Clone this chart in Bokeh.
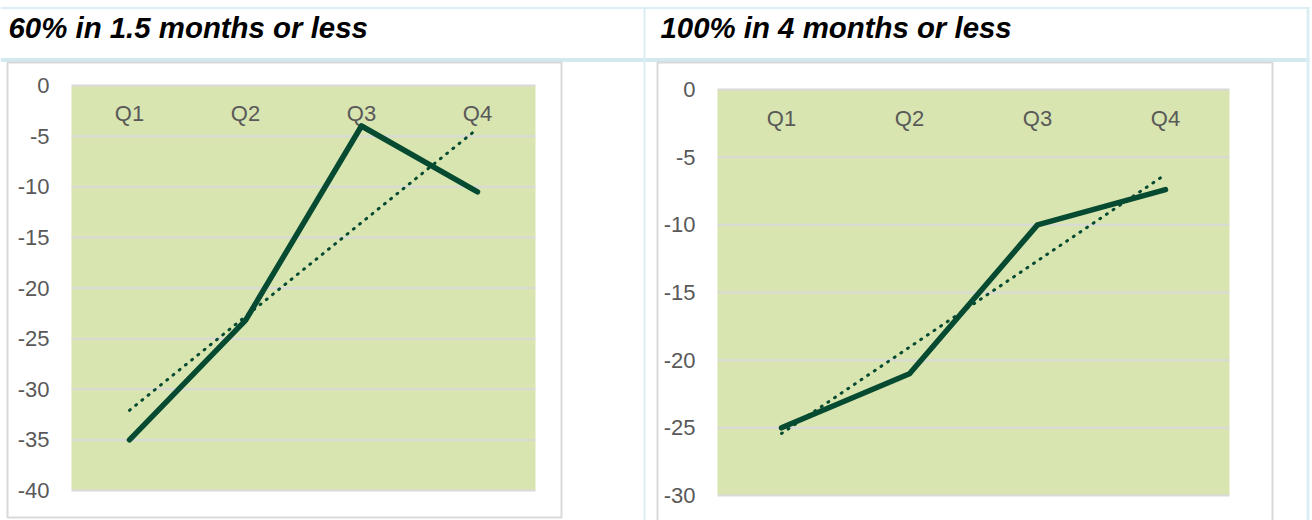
import numpy as np
from bokeh.plotting import figure
from bokeh.models import Range1d
from bokeh.embed import file_html
from bokeh.resources import INLINE
from bokeh.core.properties import value

# ---------------- data ----------------
quarters = ["Q1", "Q2", "Q3", "Q4"]

left_title = "60% in 1.5 months or less"
left_values = [-35.0, -23.2, -4.0, -10.5]
left_ticks = [0, -5, -10, -15, -20, -25, -30, -35, -40]
left_tick_labels = ["0", "-5", "-10", "-15", "-20", "-25", "-30", "-35", "-40"]

right_title = "100% in 4 months or less"
right_values = [-25.0, -21.0, -10.0, -7.4]
right_ticks = [0, -5, -10, -15, -20, -25, -30]
right_tick_labels = ["0", "-5", "-10", "-15", "-20", "-25", "-30"]

# ---------------- styles / layout ----------------
W, H = 1312, 520
GREEN_BG = "#d8e5b0"
LINE_COL = "#064a32"
GRID_COL = "#d9d9d9"
TEXT_GRAY = "#595959"
CYAN = "#dbeef3"
CYAN_DARK = "#d2e9ef"
FONT = "Liberation Sans"

p = figure(width=W, height=H, x_range=Range1d(0, W), y_range=Range1d(H, 0),
           min_border=0, x_axis_location=None, y_axis_location=None,
           output_backend="svg", toolbar_location=None,
           background_fill_color="white", border_fill_color="white",
           outline_line_color=None)
p.grid.visible = False

# ---- table-like decorations (pixel space) ----
p.quad(left=[0], right=[1309], top=[6.5], bottom=[8.5], fill_color=CYAN, line_color=None)
p.quad(left=[0], right=[1309], top=[57.5], bottom=[61.5], fill_color=CYAN_DARK, line_color=None)
p.quad(left=[643, 1306], right=[645, 1309], top=[7, 7], bottom=[H, H],
       fill_color=CYAN, line_color=None)
# chart frames
p.quad(left=[7, 657], right=[561, 1272], top=[62, 62], bottom=[517, 540],
       fill_color=None, line_color=GRID_COL, line_width=2)
# titles
p.text(x=[8, 660], y=[27, 27], text=[left_title, right_title],
       text_font=value(FONT), text_font_style="bold italic", text_font_size="29.4px",
       text_color="black", text_baseline="middle", text_align="left")


def chart(name, values, ticks, tick_labels, box, label_offset):
    """box = (px_left, px_right, px_top, px_bottom) of the plot area;
    y range of the chart is [min(ticks), max(ticks)], x range is [0, n]."""
    n = len(quarters)
    ymax, ymin = max(ticks), min(ticks)
    pl, pr, pt, pb = box
    sx = (pr - pl) / n
    sy = (pb - pt) / (ymax - ymin)
    p.extra_x_ranges[name] = Range1d(-pl / sx, (W - pl) / sx)
    p.extra_y_ranges[name] = Range1d(ymax - (H - pt) / sy, ymax + pt / sy)
    kw = dict(x_range_name=name, y_range_name=name)

    xc = [i + 0.5 for i in range(n)]
    # plot area background
    p.quad(left=[0], right=[n], bottom=[ymin], top=[ymax], fill_color=GREEN_BG,
           line_color=None, **kw)
    # horizontal gridlines
    p.segment(x0=[0] * len(ticks), x1=[n] * len(ticks), y0=ticks, y1=ticks,
              line_color=GRID_COL, line_width=2, **kw)
    # y tick labels
    p.text(x=[0] * len(ticks), y=ticks, text=tick_labels, x_offset=-22,
           text_align="right", text_baseline="middle", text_color=TEXT_GRAY,
           text_font=value(FONT), text_font_size="22px", **kw)
    # category labels at the top of the plot area
    p.text(x=xc, y=[ymax] * n, text=quarters, y_offset=label_offset,
           text_align="center", text_baseline="middle", text_color=TEXT_GRAY,
           text_font=value(FONT), text_font_size="22px", **kw)
    # linear trendline (regression over the series, as Excel draws it)
    xs = np.arange(1, n + 1)
    coef = np.polyfit(xs, values, 1)
    trend = list(np.polyval(coef, xs))
    p.line(xc, trend, line_color=LINE_COL, line_width=3, line_dash="1 7",
           line_cap="round", **kw)
    # data series
    p.line(xc, values, line_color=LINE_COL, line_width=5.5,
           line_join="round", line_cap="round", **kw)


chart("L", left_values, left_ticks, left_tick_labels, (71, 535, 85, 490), 28)
chart("R", right_values, right_ticks, right_tick_labels, (717, 1229, 89, 495), 29)

open("out.html", "w").write(file_html(p, INLINE))
